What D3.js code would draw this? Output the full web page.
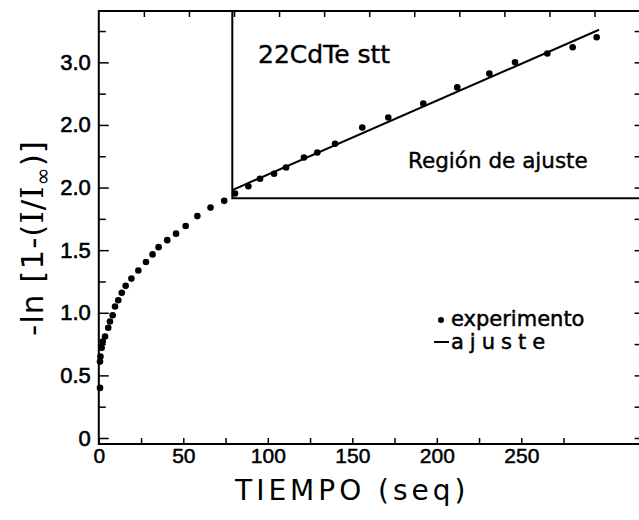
<!DOCTYPE html>
<html>
<head>
<meta charset="utf-8">
<script src="https://cdn.jsdelivr.net/npm/d3@7"></script>
<style>
  html, body { margin: 0; padding: 0; background: #fff; }
  svg { display: block; font-family: 'DejaVu Sans', sans-serif; }
</style>
</head>
<body>
<svg id="chart"></svg>
<script>
// measured points: time (s) vs -ln[1-(I/Iinf)]
const tiempo = [0.7, 0.7, 1.0, 1.7, 2.3, 3.7, 5.6, 6.6, 8.2, 9.6, 11.5, 13.6, 15.9, 19.3, 23.4, 27.9,
  31.8, 35.4, 40.5, 45.7, 51.4, 58.3, 66.1, 74.2, 80.6, 88.5, 95.4, 103.7, 110.8, 121.4, 129.3,
  139.8, 155.9, 171.3, 192.0, 212.1, 231.1, 246.3, 265.4, 280.4, 294.6];
const lnValues = [0.40, 0.61, 0.65, 0.72, 0.77, 0.81, 0.88, 0.93, 0.98, 1.05, 1.10, 1.16, 1.215, 1.273, 1.338, 1.405,
  1.466, 1.524, 1.58, 1.632, 1.693, 1.772, 1.84, 1.894, 1.953, 2.01, 2.07, 2.11, 2.16, 2.24, 2.28,
  2.35, 2.48, 2.56, 2.67, 2.80, 2.91, 3.00, 3.07, 3.12, 3.20];

// fitted straight line (ajuste)
const fitTiempo = [79, 296];
const fitValues = [1.98, 3.26];

// lower-left corner of the "Región de ajuste" box
const regionTiempo = 79;
const regionValue = 1.915;

// tick labels as printed on the figure
const xTickValues = [0, 50, 100, 150, 200, 250];
const yTickValues = [0, 0.5, 1, 1.5, 2, 2.5, 3];
const yTickLabels = ['0', '0.5', '1.0', '1.5', '2.0', '2.0', '3.0'];

class FitChart {

    constructor(_config) {
        this.config = {
            parentElement: _config.parentElement,
            containerWidth: _config.containerWidth || 639,
            containerHeight: _config.containerHeight || 520,
            margin: _config.margin || { top: 11, right: -0.6, bottom: 76, left: 98.8 }
        };
        this.initVis();
    }

    initVis() {
        let vis = this;

        vis.width = vis.config.containerWidth - vis.config.margin.left - vis.config.margin.right;
        vis.height = vis.config.containerHeight - vis.config.margin.top - vis.config.margin.bottom;

        vis.svg = d3.select(vis.config.parentElement)
            .attr('width', vis.config.containerWidth)
            .attr('height', vis.config.containerHeight);

        vis.chart = vis.svg.append('g')
            .attr('transform', `translate(${vis.config.margin.left},${vis.config.margin.top})`);

        vis.xScale = d3.scaleLinear().domain([0, 320]).range([0, vis.width]);
        // the top ticks in the original are spaced a little wider than the bottom ones
        vis.xTopScale = d3.scaleLinear().domain([0, 300]).range([0, vis.width]);
        vis.yScale = d3.scaleLinear().domain([-0.048, 3.41]).range([vis.height, 0]);

        vis.renderVis();
    }

    renderVis() {
        let vis = this;
        const x = vis.xScale, y = vis.yScale;
        const stripDomain = g => g.select('.domain').remove();
        const inkTicks = g => g.selectAll('line').attr('stroke', '#000').attr('stroke-width', 1.5);

        // bottom ticks + labels
        vis.chart.append('g')
            .attr('class', 'x-axis')
            .attr('transform', `translate(0,${vis.height})`)
            .call(d3.axisBottom(x)
                .tickValues(d3.range(0, 276, 25))
                .tickSize(-6)
                .tickPadding(4)
                .tickFormat(d => xTickValues.includes(d) ? d : ''))
            .call(stripDomain)
            .call(inkTicks)
            .call(g => g.selectAll('text')
                .attr('font-size', 21).attr('fill', '#000')
                .attr('stroke', '#000').attr('stroke-width', 0.5));

        // top ticks
        vis.chart.append('g')
            .call(d3.axisTop(vis.xTopScale)
                .tickValues(d3.range(25, 300, 25))
                .tickSize(-6)
                .tickFormat(''))
            .call(stripDomain)
            .call(inkTicks);

        // left labelled ticks
        vis.chart.append('g')
            .attr('class', 'y-axis')
            .call(d3.axisLeft(y)
                .tickValues(yTickValues)
                .tickSize(-10)
                .tickPadding(8)
                .tickFormat((d, i) => yTickLabels[i]))
            .call(stripDomain)
            .call(inkTicks)
            .call(g => g.selectAll('text')
                .attr('font-size', 22).attr('fill', '#000')
                .attr('stroke', '#000').attr('stroke-width', 0.6));

        // left minor ticks
        vis.chart.append('g')
            .call(d3.axisLeft(y)
                .tickValues(d3.range(0.25, 3.3, 0.5))
                .tickSize(-7)
                .tickFormat(''))
            .call(stripDomain)
            .call(inkTicks);

        // right ticks (the right spine itself is cut off in the scan)
        vis.chart.append('g')
            .attr('transform', `translate(${vis.width},0)`)
            .call(d3.axisRight(y)
                .tickValues(d3.range(0, 3.3, 0.25))
                .tickSize(-5)
                .tickFormat(''))
            .call(stripDomain)
            .call(inkTicks);

        // frame: top, left, bottom
        vis.chart.append('path')
            .attr('d', `M${vis.width},0 H0 V${vis.height} H${vis.width}`)
            .attr('fill', 'none')
            .attr('stroke', '#000')
            .attr('stroke-width', 2);

        // fit region box
        vis.chart.append('path')
            .attr('d', `M${x(regionTiempo)},0 V${y(regionValue)} H${vis.width}`)
            .attr('fill', 'none')
            .attr('stroke', '#000')
            .attr('stroke-width', 2);

        // fitted line
        const fitData = fitTiempo.map((t, i) => [t, fitValues[i]]);
        vis.chart.append('path')
            .datum(fitData)
            .attr('d', d3.line().x(d => x(d[0])).y(d => y(d[1])))
            .attr('fill', 'none')
            .attr('stroke', '#000')
            .attr('stroke-width', 2);

        // experimental points
        const points = tiempo.map((t, i) => ({ t: t, v: lnValues[i] }));
        vis.chart.selectAll('.point')
            .data(points)
            .join('circle')
            .attr('class', 'point')
            .attr('cx', d => x(d.t))
            .attr('cy', d => y(d.v))
            .attr('r', 3.3)
            .attr('fill', '#000');

        // annotations
        vis.svg.append('text')
            .attr('x', 258).attr('y', 63)
            .attr('font-size', 25)
            .attr('stroke', '#000').attr('stroke-width', 0.4)
            .text('22CdTe stt');

        vis.svg.append('text')
            .attr('x', 408).attr('y', 168)
            .attr('font-size', 21.5)
            .attr('stroke', '#000').attr('stroke-width', 0.4)
            .text('Región de ajuste');

        // legend
        const legend = vis.svg.append('g').attr('class', 'legend');
        legend.append('circle')
            .attr('cx', 441).attr('cy', 320).attr('r', 3)
            .attr('fill', '#000');
        legend.append('text')
            .attr('x', 451).attr('y', 326)
            .attr('font-size', 21)
            .attr('stroke', '#000').attr('stroke-width', 0.5)
            .text('experimento');
        legend.append('line')
            .attr('x1', 434).attr('x2', 449)
            .attr('y1', 342).attr('y2', 342)
            .attr('stroke', '#000').attr('stroke-width', 2);
        legend.append('text')
            .attr('x', 451).attr('y', 349)
            .attr('font-size', 21)
            .attr('letter-spacing', 6)
            .attr('stroke', '#000').attr('stroke-width', 0.5)
            .text('ajuste');

        // axis titles
        vis.svg.append('text')
            .attr('x', vis.config.margin.left + x(150))
            .attr('y', 500)
            .attr('text-anchor', 'middle')
            .attr('font-size', 28)
            .attr('letter-spacing', 4)
            .text('TIEMPO (seq)');

        const yTitle = vis.svg.append('text')
            .attr('transform', 'translate(43,238) rotate(-90)')
            .attr('text-anchor', 'middle')
            .attr('font-size', 31)
            .attr('letter-spacing', 1);
        yTitle.append('tspan').text('-ln [1-(');
        yTitle.append('tspan').attr('font-family', "'DejaVu Serif', serif").text('I');
        yTitle.append('tspan').text('/');
        yTitle.append('tspan').attr('font-family', "'DejaVu Serif', serif").text('I');
        yTitle.append('tspan').attr('font-size', 22).attr('dy', 7).text('∞');
        yTitle.append('tspan').attr('dy', -7).text(')]');
    }
}

new FitChart({ parentElement: '#chart' });
</script>
</body>
</html>
